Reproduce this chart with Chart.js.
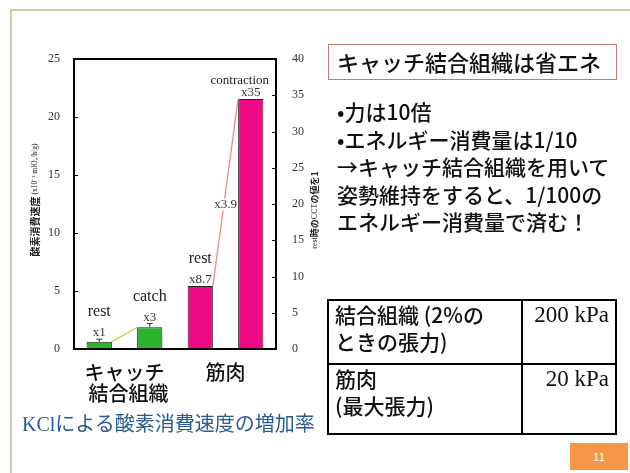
<!DOCTYPE html>
<html>
<head>
<meta charset="utf-8">
<script src="https://cdn.jsdelivr.net/npm/chart.js@4.4.0/dist/chart.umd.min.js"></script>
<style>
body{margin:0;background:#fff;}
#slide{position:relative;width:630px;height:473px;overflow:hidden;font-family:"Noto Sans CJK JP",sans-serif;font-weight:500;color:#111;}
#chart{position:absolute;left:0;top:0;}
.serif{font-family:"Liberation Serif",serif;}
#frameV{position:absolute;left:10px;top:9px;width:2px;height:464px;background:#d6cba3;}
#frameH{position:absolute;left:10px;top:9px;width:620px;height:2px;background:#d6cba3;}
#head{position:absolute;left:328px;top:44px;width:289px;height:36px;box-sizing:border-box;border:1.5px solid #c87a68;font-size:22px;line-height:33px;padding-left:8px;white-space:nowrap;}
#bullets{position:absolute;left:337px;top:98px;font-size:21px;line-height:27.5px;white-space:nowrap;}
#tbl{position:absolute;left:327px;top:299px;border-collapse:collapse;table-layout:fixed;font-size:21px;line-height:27px;}
#tbl td{border:2px solid #000;vertical-align:top;padding:0 6px;white-space:nowrap;}
#tbl td.v{text-align:right;font-family:"Liberation Serif",serif;font-size:23px;font-weight:400;}
#caption{position:absolute;left:22px;top:409px;font-size:20px;line-height:28px;color:#2a5a92;font-weight:400;white-space:nowrap;}
#page{position:absolute;left:570px;top:443px;width:58px;height:27px;background:#f79646;color:#fff;font-size:10px;line-height:27px;text-align:center;}
</style>
</head>
<body>
<div id="slide">
<canvas id="chart" width="630" height="473"></canvas>
<div id="frameV"></div>
<div id="frameH"></div>
<div id="head">キャッチ結合組織は省エネ</div>
<div id="bullets">•力は10倍<br>•エネルギー消費量は1/10<br>→キャッチ結合組織を用いて<br>姿勢維持をすると、1/100の<br>エネルギー消費量で済む！</div>
<table id="tbl">
<colgroup><col style="width:194px"><col style="width:94px"></colgroup>
<tr style="height:64px"><td>結合組織 (2%の<br>ときの張力)</td><td class="v">200 kPa</td></tr>
<tr style="height:70px"><td>筋肉<br>(最大張力)</td><td class="v">20 kPa</td></tr>
</table>
<div id="caption"><span class="serif">KCl</span>による酸素消費速度の増加率</div>
<div id="page">11</div>
</div>
<script>
// bars (values on the right axis, rest of catch tissue = 1)
var categories=['rest','catch','rest','contraction']
var groupNames=[['キャッチ','結合組織'],['筋肉']]
var groupOf=[0,0,1,1]
var ratios=[1,3,8.7,34.5]
var ratioErr=[0.35,0.5,0,0]
var ratioLabels=['x1','x3','x8.7','x35']
var links=[[0,1],[2,3]]
var linkLabels=['','x3.9']
var leftMax=25
var rightMax=40
var barColors=['#2bb32b','#2bb32b','#ee0a85','#ee0a85']
var linkColors=['#b9d53a','#f08a8a']

function drawRich(ctx,segs,x,y){
    // draws text segments rotated -90deg, centred on x,y
    ctx.save()
    ctx.translate(x,y)
    ctx.rotate(-Math.PI/2)
    ctx.textBaseline='middle'
    ctx.textAlign='left'
    var total=0
    segs.forEach(s=>{ctx.font=s.f; total+=ctx.measureText(s.t).width})
    var cx=-total/2
    segs.forEach(s=>{ctx.font=s.f; ctx.fillText(s.t,cx,0); cx+=ctx.measureText(s.t).width})
    ctx.restore()
}

var overlay={
    id:'overlay',
    afterDatasetsDraw(chart){
        const ctx=chart.ctx
        const a=chart.chartArea
        const sL=chart.scales.y
        const sR=chart.scales.y1
        const bars=chart.getDatasetMeta(0).data
        ctx.save()

        // inward ticks
        ctx.strokeStyle='#000'
        ctx.lineWidth=1
        sL.ticks.forEach(t=>{
            const p=Math.round(sL.getPixelForValue(t.value))+0.5
            ctx.beginPath(); ctx.moveTo(a.left,p); ctx.lineTo(a.left+4,p); ctx.stroke()
        })
        sR.ticks.forEach(t=>{
            const p=Math.round(sR.getPixelForValue(t.value))+0.5
            ctx.beginPath(); ctx.moveTo(a.right,p); ctx.lineTo(a.right-4,p); ctx.stroke()
        })

        // plot frame
        ctx.lineWidth=2
        ctx.strokeRect(a.left,a.top,a.right-a.left,a.bottom-a.top)

        // error bars
        ctx.strokeStyle='#333'
        ctx.lineWidth=1
        bars.forEach((b,i)=>{
            if(!ratioErr[i]) return
            const top=sR.getPixelForValue(ratios[i]+ratioErr[i])
            ctx.beginPath()
            ctx.moveTo(b.x,b.y); ctx.lineTo(b.x,top)
            ctx.moveTo(b.x-3,top); ctx.lineTo(b.x+3,top)
            ctx.stroke()
        })

        // connecting lines
        links.forEach((l,k)=>{
            const p=bars[l[0]], q=bars[l[1]]
            const x0=p.x+p.width/2, y0=p.y, x1=q.x-q.width/2, y1=q.y
            ctx.strokeStyle=linkColors[k]
            ctx.lineWidth=1.3
            ctx.beginPath(); ctx.moveTo(x0,y0); ctx.lineTo(x1,y1); ctx.stroke()
            if(linkLabels[k]){
                ctx.font='13px "Liberation Serif"'
                const mx=(x0+x1)/2, my=(y0+y1)/2+12
                const w=ctx.measureText(linkLabels[k]).width
                ctx.fillStyle='#fff'
                ctx.fillRect(mx-w/2-1,my-6,w+2,12)
                ctx.fillStyle='#333'
                ctx.textAlign='center'; ctx.textBaseline='middle'
                ctx.fillText(linkLabels[k],mx,my)
            }
        })

        // labels above bars
        ctx.textBaseline='alphabetic'
        ctx.textAlign='center'
        bars.forEach((b,i)=>{
            let top=b.y
            if(ratioErr[i]) top=Math.min(top,sR.getPixelForValue(ratios[i]+ratioErr[i]))
            const base=top-3
            ctx.fillStyle='#333'
            ctx.font='13px "Liberation Serif"'
            ctx.fillText(ratioLabels[i],b.x,base)
            const big=categories[i].length<=6
            const size=big?16:13
            ctx.font=size+'px "Liberation Serif"'
            const w=ctx.measureText(categories[i]).width
            let cx=b.x
            if(cx+w/2>a.right-7) cx=a.right-7-w/2
            ctx.fillStyle='#222'
            ctx.fillText(categories[i],cx,base-(big?20:12))
        })

        // group labels below axis
        ctx.font='500 20px "Noto Sans CJK JP"'
        ctx.fillStyle='#111'
        ctx.textBaseline='middle'
        groupNames.forEach((names,g)=>{
            const xs=bars.filter((b,i)=>groupOf[i]===g).map(b=>b.x)
            const cx=xs.reduce((s,v)=>s+v,0)/xs.length
            names.forEach((n,j)=>ctx.fillText(n,cx+(names.length>1?4*j:0),a.bottom+23+21*j))
        })

        // axis titles
        ctx.fillStyle='#222'
        drawRich(ctx,[
            {t:'酸素消費速度',f:'bold 10px "Noto Sans CJK JP"'},
            {t:' (x10⁻³ mlO₂/h/g)',f:'7.5px "Liberation Serif"'}
        ],35,200)
        drawRich(ctx,[
            {t:'rest',f:'8px "Liberation Serif"'},
            {t:'時の',f:'bold 9px "Noto Sans CJK JP"'},
            {t:'CCT',f:'8px "Liberation Serif"'},
            {t:'の値を1',f:'bold 9px "Noto Sans CJK JP"'}
        ],315,210)

        ctx.restore()
    }
}

var tickFont={family:'Liberation Serif',size:12}

new Chart(document.getElementById('chart'),{
    type:'bar',
    data:{
        labels:categories,
        datasets:[{
            data:ratios,
            yAxisID:'y1',
            backgroundColor:barColors,
            borderColor:'#222',
            borderWidth:1,
            barPercentage:0.5,
            categoryPercentage:1
        }]
    },
    options:{
        responsive:false,
        animation:false,
        devicePixelRatio:1,
        layout:{padding:{left:0,top:59,right:314,bottom:114}},
        plugins:{legend:{display:false},tooltip:{enabled:false}},
        scales:{
            x:{
                offset:true,
                grid:{display:false},
                border:{display:false},
                ticks:{display:false},
                afterFit:s=>{s.height=10;s.paddingLeft=0;s.paddingRight=0}
            },
            y:{
                position:'left',
                min:0,max:leftMax,
                grid:{display:false},
                border:{display:false},
                ticks:{stepSize:5,padding:6,font:tickFont,color:'#333'},
                afterFit:s=>{s.width=74;s.paddingTop=0;s.paddingBottom=0}
            },
            y1:{
                position:'right',
                min:0,max:rightMax,
                grid:{display:false},
                border:{display:false},
                ticks:{stepSize:5,padding:8,font:tickFont,color:'#333'},
                afterFit:s=>{s.width=40;s.paddingTop=0;s.paddingBottom=0}
            }
        }
    },
    plugins:[overlay]
})
</script>
</body>
</html>
